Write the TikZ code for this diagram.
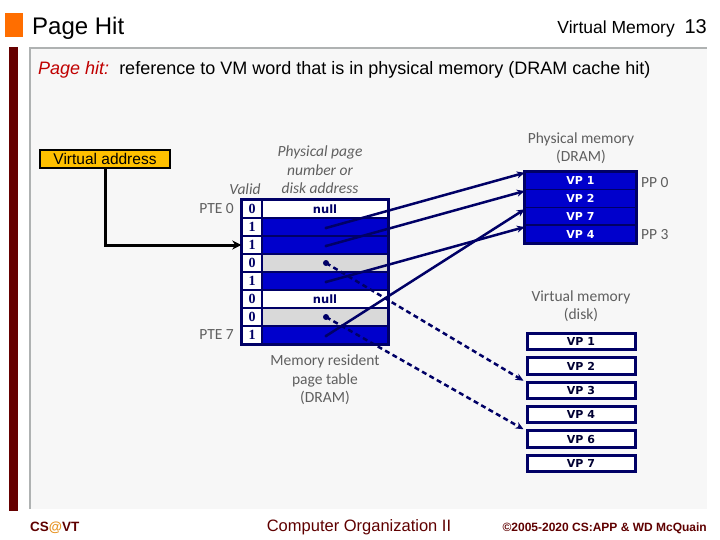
\documentclass[tikz,border=0pt]{standalone}
\usepackage{fontspec}
\setmainfont{Liberation Sans}
\newfontfamily\carl{Carlito}
\newfontfamily\dejab{DejaVu Sans}
\newfontfamily\libserif{Liberation Serif}
\usetikzlibrary{arrows.meta}
\definecolor{navy}{RGB}{0,0,102}
\definecolor{vmblue}{RGB}{0,0,204}
\definecolor{ltgray}{RGB}{217,217,217}
\definecolor{bgray}{RGB}{247,247,247}
\definecolor{barred}{RGB}{102,0,0}
\definecolor{lgray}{RGB}{175,178,178}
\definecolor{sqorange}{RGB}{255,110,0}
\definecolor{vagold}{RGB}{255,192,0}
\definecolor{foot}{RGB}{95,0,0}
\definecolor{atorange}{RGB}{230,145,30}
\definecolor{hitred}{RGB}{192,0,0}
\definecolor{labgray}{RGB}{95,95,95}
\begin{document}
\begin{tikzpicture}[x=1pt,y=-1pt,
  gl/.style={text=labgray, font=\carl\fontsize{15.5}{18.5}\selectfont, align=center, inner sep=0},
  vcell/.style={draw=navy, line width=1.5, fill=white, minimum width=20, minimum height=18, inner sep=0, text=navy, font=\libserif\bfseries\fontsize{14}{14}\selectfont},
  acell/.style={draw=navy, line width=1.5, minimum width=126, minimum height=18, inner sep=0, text=navy, font=\dejab\bfseries\fontsize{11.5}{11.5}\selectfont},
  mcell/.style={draw=navy, line width=1.5, fill=vmblue, minimum width=110, minimum height=17.75, inner sep=0, text=white, font=\dejab\bfseries\fontsize{11}{11}\selectfont},
  dcell/.style={draw=navy, line width=3, fill=white, minimum width=108, minimum height=16.5, inner sep=0, text=navy!50!black, font=\dejab\bfseries\fontsize{11}{11}\selectfont},
  ptr/.style={draw=navy, line width=2.5, -{Stealth[length=8,width=7]}},
  dptr/.style={ptr, dash pattern=on 5pt off 3.5pt}
]
\useasboundingbox (0,0) rectangle (720,540);
% header
\fill[sqorange] (5,13) rectangle (23,37);
\node[anchor=base west, inner sep=0, font=\fontsize{24}{24}\selectfont] (title) at (32,35) {Page Hit};
\node[anchor=base east, inner sep=0, font=\fontsize{17.5}{17.5}\selectfont] (sec) at (707,34) {Virtual Memory\ \ {\fontsize{20}{20}\selectfont 13}};
% content frame
\fill[bgray] (30,48) rectangle (707,509);
\draw[lgray, line width=1.5] (30,509) -- (30,48) -- (707,48);
\fill[barred] (9,47) rectangle (17.5,510.5);
\node[anchor=base west, inner sep=0, font=\fontsize{18}{18}\selectfont] (hit) at (38,75) {\textcolor{hitred}{\itshape Page hit:}\ \ reference to VM word that is in physical memory (DRAM cache hit)};
% virtual address
\node[draw=black, line width=1.5, fill=vagold, minimum width=130, minimum height=18, inner sep=0, font=\fontsize{15.5}{15.5}\selectfont] (va) at (105,159) {Virtual address};
% page table
\foreach \k/\v/\c/\t in {0/0/white/null,1/1/vmblue/{},2/1/vmblue/{},3/0/ltgray/{},4/1/vmblue/{},5/0/white/null,6/0/ltgray/{},7/1/vmblue/{}}{
  \node[vcell] (v\k) at (252,209+18*\k) {\v};
  \node[acell, fill=\c] (a\k) at (325,209+18*\k) {\t};
}
\draw[navy, line width=3] (v0.north west) rectangle (a7.south east);
\node[gl, anchor=east] (pte0) at (234,209) {PTE 0};
\node[gl, anchor=east] (pte7) at (234,335) {PTE 7};
\node[gl, font=\carl\itshape\fontsize{15.5}{18.5}\selectfont] (valid) at (245,189) {Valid};
\node[gl, font=\carl\itshape\fontsize{15.5}{18.5}\selectfont] (ppn) at (320,170) {Physical page\\number or\\disk address};
\node[gl] (mrpt) at (325,380) {Memory resident\\page table\\(DRAM)};
% physical memory
\node[gl] (pmlab) at (581,148) {Physical memory\\(DRAM)};
\node[mcell] (m1) at (580.5,180.875) {VP 1};
\node[mcell] (m2) at (580.5,198.625) {VP 2};
\node[mcell] (m7) at (580.5,216.375) {VP 7};
\node[mcell] (m4) at (580.5,234.125) {VP 4};
\draw[navy, line width=3] (m1.north west) rectangle (m4.south east);
\node[gl, anchor=west] (pp0) at (641,183) {PP 0};
\node[gl, anchor=west] (pp3) at (641,235) {PP 3};
% disk
\node[gl] (vmlab) at (581,306) {Virtual memory\\(disk)};
\node[dcell] (d1) at (581,341.5) {VP 1};
\node[dcell] (d2) at (581,366) {VP 2};
\node[dcell] (d3) at (581,390.5) {VP 3};
\node[dcell] (d4) at (581,414.5) {VP 4};
\node[dcell] (d6) at (581,439) {VP 6};
\node[dcell] (d7) at (581,463.5) {VP 7};
% pointers
\coordinate (p1) at (326,228);
\coordinate (p2) at (326,246);
\coordinate (p3) at (326,263);
\coordinate (p4) at (326,282);
\coordinate (p6) at (326,317);
\coordinate (p7) at (326,336);
\draw[ptr] (p1) -- ([yshift=-1.5pt]m1.north west);
\draw[ptr] (p2) -- ([yshift=-2pt]m2.north west);
\draw[ptr] (p4) -- ([yshift=-2.5pt]m4.north west);
\draw[ptr] (p7) -- ([yshift=-2.5pt]m7.north west);
\draw[dptr] (p3) -- ([xshift=-2pt]d3.north west);
\draw[dptr] (p6) -- ([xshift=-2pt]d6.north west);
\foreach \p in {p1,p2,p4,p7}{\fill[navy] (\p) circle (1.6);}
\foreach \p in {p3,p6}{\fill[navy] (\p) circle (3);}
% virtual address arrow
\draw[black, line width=3, -{Stealth[length=9,width=9]}] (va.south) |- (v2.west);
% footer
\node[anchor=base west, inner sep=0, text=foot, font=\bfseries\fontsize{13.5}{13.5}\selectfont] (csvt) at (30,531) {CS\textcolor{atorange}{@}VT};
\node[anchor=base, inner sep=0, text=foot, font=\fontsize{16.5}{16.5}\selectfont] (co) at (359,531) {Computer Organization II};
\node[anchor=base east, inner sep=0, text=foot, font=\bfseries\fontsize{12}{12}\selectfont] (copy) at (707,531) {©2005-2020 CS:APP \& WD McQuain};
\end{tikzpicture}
\end{document}
